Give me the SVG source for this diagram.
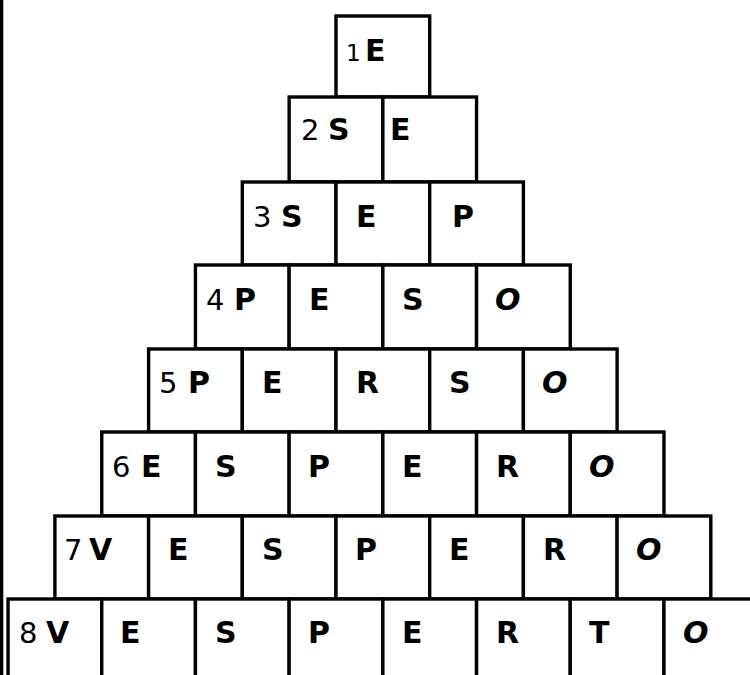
<svg xmlns="http://www.w3.org/2000/svg" width="750" height="675" viewBox="0 0 750 675">
<style>
.c{fill:#fff;stroke:#000;stroke-width:3.4}
.n{font-family:"DejaVu Sans",sans-serif;font-size:29px;fill:#000}
.l{font-family:"DejaVu Sans",sans-serif;font-size:30px;font-weight:bold;fill:#000}
.o{font-style:italic}
</style>
<rect x="0" y="0" width="750" height="675" fill="#fff"/>
<rect x="0" y="0" width="3.3" height="675" fill="#000"/>
<g id="row1">
<g id="c1-1"><rect class="c" x="336" y="16" width="93.7" height="81"/><text class="n" x="346" y="61" style="font-size:23px">1</text><text class="l" x="365" y="61">E</text></g>
</g>
<g id="row2">
<g id="c2-1"><rect class="c" x="289.15" y="97" width="93.7" height="85"/><text class="n" x="301" y="140">2</text><text class="l" x="328" y="140">S</text></g>
<g id="c2-2"><rect class="c" x="382.85" y="97" width="93.7" height="85"/><text class="l" x="390" y="140">E</text></g>
</g>
<g id="row3">
<g id="c3-1"><rect class="c" x="242.3" y="182" width="93.7" height="83"/><text class="n" x="253" y="227">3</text><text class="l" x="281" y="227">S</text></g>
<g id="c3-2"><rect class="c" x="336" y="182" width="93.7" height="83"/><text class="l" x="356" y="227">E</text></g>
<g id="c3-3"><rect class="c" x="429.7" y="182" width="93.7" height="83"/><text class="l" x="452" y="227">P</text></g>
</g>
<g id="row4">
<g id="c4-1"><rect class="c" x="195.45" y="265" width="93.7" height="84"/><text class="n" x="206" y="310">4</text><text class="l" x="234" y="310">P</text></g>
<g id="c4-2"><rect class="c" x="289.15" y="265" width="93.7" height="84"/><text class="l" x="309" y="310">E</text></g>
<g id="c4-3"><rect class="c" x="382.85" y="265" width="93.7" height="84"/><text class="l" x="402" y="310">S</text></g>
<g id="c4-4"><rect class="c" x="476.55" y="265" width="93.7" height="84"/><text class="l o" x="495" y="310">O</text></g>
</g>
<g id="row5">
<g id="c5-1"><rect class="c" x="148.6" y="349" width="93.7" height="83"/><text class="n" x="159" y="393">5</text><text class="l" x="188" y="393">P</text></g>
<g id="c5-2"><rect class="c" x="242.3" y="349" width="93.7" height="83"/><text class="l" x="262" y="393">E</text></g>
<g id="c5-3"><rect class="c" x="336" y="349" width="93.7" height="83"/><text class="l" x="356" y="393">R</text></g>
<g id="c5-4"><rect class="c" x="429.7" y="349" width="93.7" height="83"/><text class="l" x="449" y="393">S</text></g>
<g id="c5-5"><rect class="c" x="523.4" y="349" width="93.7" height="83"/><text class="l o" x="542" y="393">O</text></g>
</g>
<g id="row6">
<g id="c6-1"><rect class="c" x="101.75" y="432" width="93.7" height="84"/><text class="n" x="112" y="477">6</text><text class="l" x="141" y="477">E</text></g>
<g id="c6-2"><rect class="c" x="195.45" y="432" width="93.7" height="84"/><text class="l" x="215" y="477">S</text></g>
<g id="c6-3"><rect class="c" x="289.15" y="432" width="93.7" height="84"/><text class="l" x="308" y="477">P</text></g>
<g id="c6-4"><rect class="c" x="382.85" y="432" width="93.7" height="84"/><text class="l" x="402" y="477">E</text></g>
<g id="c6-5"><rect class="c" x="476.55" y="432" width="93.7" height="84"/><text class="l" x="496" y="477">R</text></g>
<g id="c6-6"><rect class="c" x="570.25" y="432" width="93.7" height="84"/><text class="l o" x="589" y="477">O</text></g>
</g>
<g id="row7">
<g id="c7-1"><rect class="c" x="54.9" y="516" width="93.7" height="83"/><text class="n" x="64" y="560">7</text><text class="l" x="89" y="560">V</text></g>
<g id="c7-2"><rect class="c" x="148.6" y="516" width="93.7" height="83"/><text class="l" x="168" y="560">E</text></g>
<g id="c7-3"><rect class="c" x="242.3" y="516" width="93.7" height="83"/><text class="l" x="262" y="560">S</text></g>
<g id="c7-4"><rect class="c" x="336" y="516" width="93.7" height="83"/><text class="l" x="355" y="560">P</text></g>
<g id="c7-5"><rect class="c" x="429.7" y="516" width="93.7" height="83"/><text class="l" x="449" y="560">E</text></g>
<g id="c7-6"><rect class="c" x="523.4" y="516" width="93.7" height="83"/><text class="l" x="543" y="560">R</text></g>
<g id="c7-7"><rect class="c" x="617.1" y="516" width="93.7" height="83"/><text class="l o" x="636" y="560">O</text></g>
</g>
<g id="row8">
<g id="c8-1"><rect class="c" x="8.05" y="599" width="93.7" height="84"/><text class="n" x="19" y="643">8</text><text class="l" x="46" y="643">V</text></g>
<g id="c8-2"><rect class="c" x="101.75" y="599" width="93.7" height="84"/><text class="l" x="120" y="643">E</text></g>
<g id="c8-3"><rect class="c" x="195.45" y="599" width="93.7" height="84"/><text class="l" x="215" y="643">S</text></g>
<g id="c8-4"><rect class="c" x="289.15" y="599" width="93.7" height="84"/><text class="l" x="308" y="643">P</text></g>
<g id="c8-5"><rect class="c" x="382.85" y="599" width="93.7" height="84"/><text class="l" x="402" y="643">E</text></g>
<g id="c8-6"><rect class="c" x="476.55" y="599" width="93.7" height="84"/><text class="l" x="496" y="643">R</text></g>
<g id="c8-7"><rect class="c" x="570.25" y="599" width="93.7" height="84"/><text class="l" x="589" y="643">T</text></g>
<g id="c8-8"><rect class="c" x="663.95" y="599" width="93.7" height="84"/><text class="l o" x="683" y="643">O</text></g>
</g>
</svg>
